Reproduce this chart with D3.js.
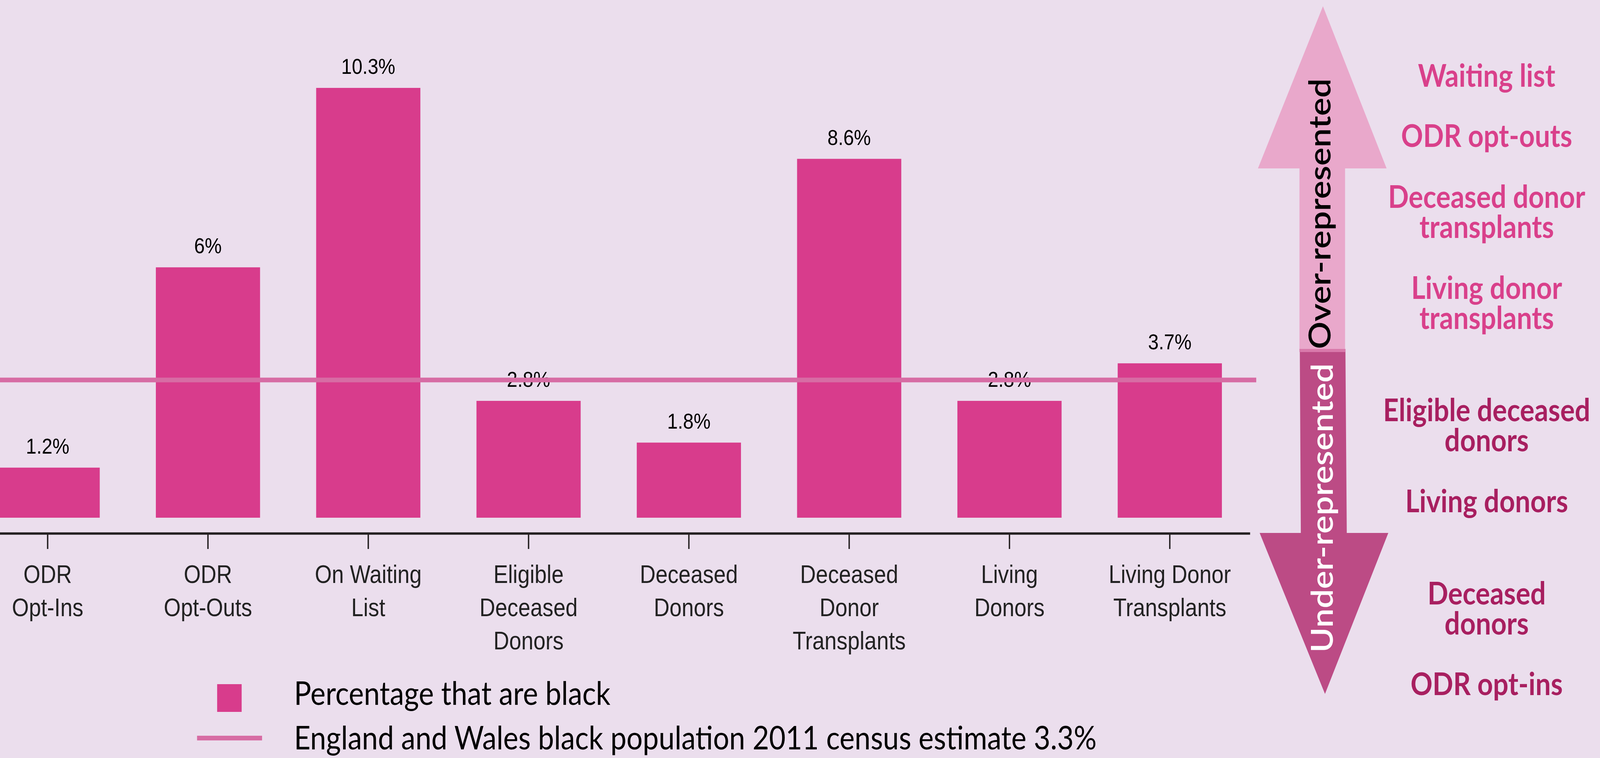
<!DOCTYPE html>
<html>
<head>
<meta charset="utf-8">
<script src="https://cdn.jsdelivr.net/npm/d3@7"></script>
<style>
  html, body { margin: 0; padding: 0; background: #ebdeed; overflow: hidden; }
  svg { display: block; }
</style>
</head>
<body>
<div id="chart"></div>
<script>
// data
const categories = ["ODR Opt-Ins", "ODR Opt-Outs", "On Waiting List", "Eligible Deceased Donors",
    "Deceased Donors", "Deceased Donor Transplants", "Living Donors", "Living Donor Transplants"];
const tickLines = [["ODR", "Opt-Ins"], ["ODR", "Opt-Outs"], ["On Waiting", "List"], ["Eligible", "Deceased", "Donors"],
    ["Deceased", "Donors"], ["Deceased", "Donor", "Transplants"], ["Living", "Donors"], ["Living Donor", "Transplants"]];
const blackPct = [1.2, 6, 10.3, 2.8, 1.8, 8.6, 2.8, 3.7];
const censusPct = 3.3;
const legendLabels = ["Percentage that are black", "England and Wales black population 2011 census estimate 3.3%"];
const overLabels = [["Waiting list"], ["ODR opt-outs"], ["Deceased donor", "transplants"], ["Living donor", "transplants"]];
const underLabels = [["Eligible deceased", "donors"], ["Living donors"], ["Deceased", "donors"], ["ODR opt-ins"]];

const W = 4701, H = 1940;
const barColor = "#d83c8c";
const lineColor = "#d76ca4";

// the drawing is laid out on a 4701x1940 canvas and stretched to the window
const svg = d3.select("#chart").append("svg")
    .attr("viewBox", `0 0 ${W} ${H}`)
    .attr("preserveAspectRatio", "none")
    .style("width", "100vw")
    .style("height", "100vh");

svg.append("rect").attr("width", W).attr("height", H).attr("fill", "#ebdeed");

const baseY = 1325;

const x = d3.scaleBand()
    .domain(categories)
    .range([-95.5, 3672.5])
    .paddingInner(0.35)
    .paddingOuter(0.175);

const y = d3.scaleLinear()
    .domain([0, 10])
    .range([baseY, baseY - 1068]);

const data = categories.map((c, i) => ({ cat: c, value: blackPct[i], lines: tickLines[i] }));

// bars
svg.append("g").selectAll("rect")
    .data(data)
    .join("rect")
    .attr("x", d => x(d.cat))
    .attr("y", d => y(d.value))
    .attr("width", x.bandwidth())
    .attr("height", d => y(0) - y(d.value))
    .attr("fill", barColor);

// value labels
svg.append("g").selectAll("text")
    .data(data)
    .join("text")
    .attr("x", d => x(d.cat) + x.bandwidth() / 2)
    .attr("y", d => y(d.value) - 36)
    .attr("text-anchor", "middle")
    .style("font-family", "'Liberation Sans', Arial, sans-serif")
    .style("font-size", "56px")
    .attr("fill", "#000")
    .text(d => d.value + "%");

// census line
svg.append("line")
    .attr("x1", x.range()[0])
    .attr("x2", 3691)
    .attr("y1", y(censusPct))
    .attr("y2", y(censusPct))
    .attr("stroke", lineColor)
    .attr("stroke-width", 12);

// x axis
const xAxis = d3.axisBottom(x)
    .tickSize(40)
    .tickSizeOuter(0)
    .tickFormat("");

const xAxisG = svg.append("g")
    .attr("transform", `translate(0,${1365})`)
    .call(xAxis);

xAxisG.select(".domain")
    .attr("stroke", "#231f20")
    .attr("stroke-width", 6);
xAxisG.selectAll(".tick line")
    .attr("stroke", "#231f20")
    .attr("stroke-width", 4);

const tickLabels = svg.append("g").selectAll("text")
    .data(data)
    .join("text")
    .attr("x", d => x(d.cat) + x.bandwidth() / 2)
    .attr("y", 1492)
    .attr("text-anchor", "middle")
    .style("font-family", "'Liberation Sans', Arial, sans-serif")
    .style("font-size", "64px")
    .attr("fill", "#222");

tickLabels.selectAll("tspan")
    .data(d => d.lines.map(l => ({ l, cx: x(d.cat) + x.bandwidth() / 2 })))
    .join("tspan")
    .attr("x", d => d.cx)
    .attr("dy", (d, i) => i === 0 ? 0 : 85)
    .text(d => d.l);

// legend
const legend = svg.append("g")
    .style("font-family", "Lato, sans-serif")
    .style("font-size", "84px");

legend.append("rect")
    .attr("x", 638).attr("y", 1751)
    .attr("width", 72).attr("height", 71)
    .attr("fill", barColor);

legend.append("line")
    .attr("x1", 579).attr("x2", 770)
    .attr("y1", 1889).attr("y2", 1889)
    .attr("stroke", lineColor)
    .attr("stroke-width", 12);

legend.selectAll("text")
    .data(legendLabels)
    .join("text")
    .attr("x", 864)
    .attr("y", (d, i) => i === 0 ? 1804 : 1918)
    .attr("fill", "#000")
    .text(d => d);

// arrows on the right
const arrows = svg.append("g");

arrows.append("path")
    .attr("d", "M3887,16 L4074,431 L3952,431 L3952,896 L3818,896 L3818,431 L3696,431 Z")
    .attr("fill", "#e9a8cb");

arrows.append("path")
    .attr("d", "M3819,893 L3953,893 L3957,1364 L4079,1364 L3893,1776 L3701,1364 L3822,1364 Z")
    .attr("fill", "#bc4b85");

arrows.append("rect")
    .attr("x", 3818).attr("y", 893)
    .attr("width", 135).attr("height", 8)
    .attr("fill", "#d97aab");

arrows.append("text")
    .attr("transform", "translate(3909,547) rotate(-90)")
    .attr("text-anchor", "middle")
    .style("font-family", "Lato, sans-serif")
    .style("font-size", "88px")
    .style("font-weight", 600)
    .attr("fill", "#000")
    .text("Over-represented");

arrows.append("text")
    .attr("transform", "translate(3916,1300) rotate(-90)")
    .attr("text-anchor", "middle")
    .style("font-family", "Lato, sans-serif")
    .style("font-size", "88px")
    .style("font-weight", 600)
    .attr("fill", "#fff")
    .text("Under-represented");

// right hand labels
const overY = [222, 376, 532, 765];
const underY = [1078, 1311, 1547, 1779];

function sideLabels(lines, ys, color) {
    const t = svg.append("g").selectAll("text")
        .data(lines)
        .join("text")
        .attr("x", 4368)
        .attr("y", (d, i) => ys[i])
        .attr("text-anchor", "middle")
        .style("font-family", "Lato, sans-serif")
        .style("font-size", "80px")
        .style("font-weight", 700)
        .attr("fill", color);
    t.selectAll("tspan")
        .data(d => d)
        .join("tspan")
        .attr("x", 4368)
        .attr("dy", (d, i) => i === 0 ? 0 : 77)
        .text(d => d);
}

sideLabels(overLabels, overY, "#d9408b");
sideLabels(underLabels, underY, "#a81f60");
</script>
</body>
</html>
